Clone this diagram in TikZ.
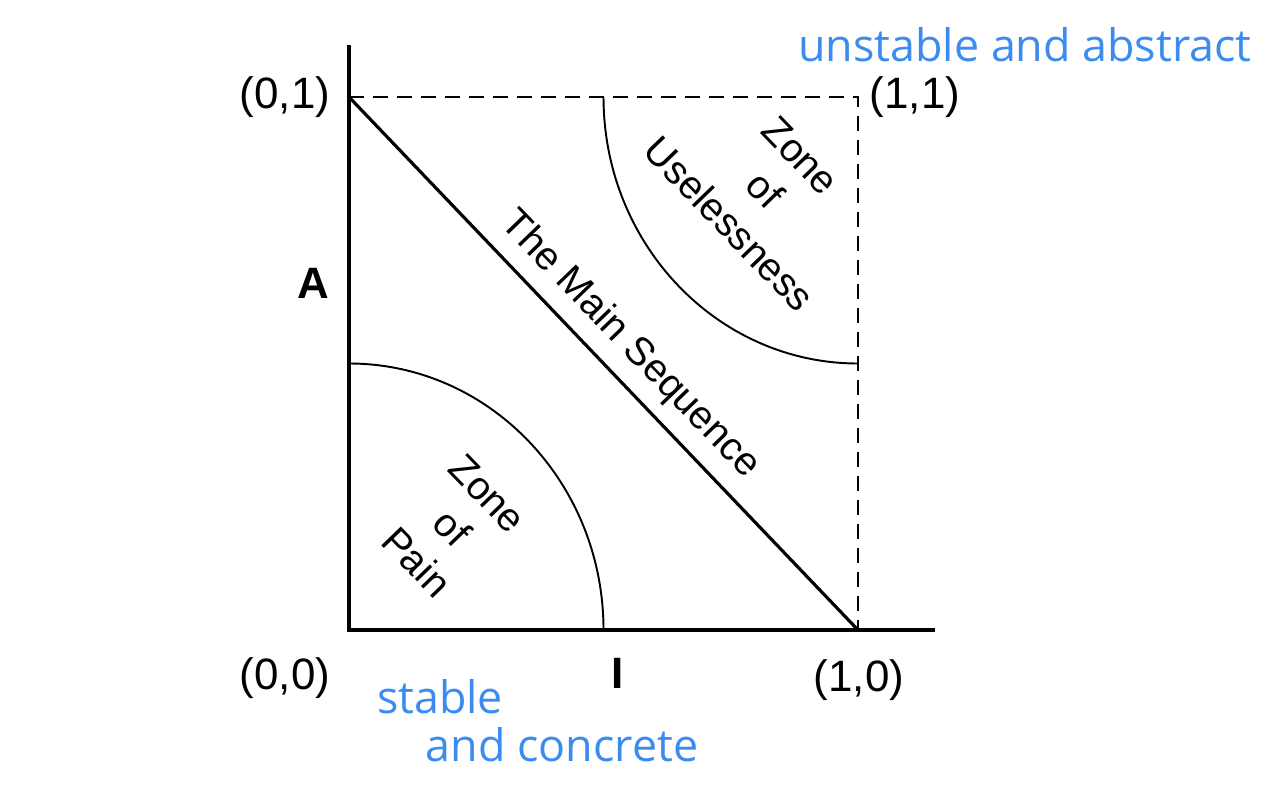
\documentclass[tikz,border=0pt]{standalone}
\usepackage{fontspec}
\setmainfont{Liberation Sans}
\newfontfamily\handfont{Open Sans}
\usepackage{tikz}
\usetikzlibrary{positioning}
\definecolor{penblue}{RGB}{60,140,240}

\begin{document}
\begin{tikzpicture}[x=10.18cm,y=10.66cm,
		axis/.style={line width=1.8pt},
		zone/.style={line width=1.1pt},
		guide/.style={line width=1.1pt,dash pattern=on 0.3cm off 0.18cm},
		corner/.style={inner sep=0pt,font=\fontsize{25}{30}\selectfont},
		inlabel/.style={inner sep=0pt,align=center,rotate=-46,font=\fontsize{22.5}{28}\selectfont},
		note/.style={inner sep=0pt,text=penblue,font=\handfont\fontsize{25.5}{30}\selectfont}]
		
		\useasboundingbox (-0.6857,-0.3114) rectangle (1.8212,1.182);
		
		% corners of the unit square and axis ends
		\coordinate (O)  at (0,0);
		\coordinate (X)  at (1,0);
		\coordinate (Y)  at (0,1);
		\coordinate (XY) at (1,1);
		\coordinate (Atop) at (0,1.0976);
		\coordinate (Iend) at (1.151,0);
		
		% --- dashed sides of the square ---
		\draw[guide] (Y) -- (XY) -- (X);
		
		% zones: quarter circles of radius 1/2
		\draw[zone] (0,0.5) arc[start angle=90,end angle=0,radius=0.5];   % pain
		\draw[zone] (0.5,1) arc[start angle=180,end angle=270,radius=0.5]; % uselessness
		
		% main sequence A + I = 1
		\draw[axis] (Y) -- (X);
		
		% --- axes drawn last ---
		\draw[axis] (Atop) -- (O) -- (Iend);
		
		% corner labels
		\node[corner] (lblO)  at (-0.1257,-0.090) {(0,0)};
		\node[corner] (lblX)  at (1.002,-0.094)   {(1,0)};
		\node[corner] (lblY)  at (-0.1257,1.0)    {(0,1)};
		\node[corner] (lblXY) at (1.112,1.0)      {(1,1)};
		
		% axis names
		\node[corner,font=\fontsize{25}{30}\selectfont\bfseries] (lblA) at (-0.0707,0.651) {A};
		\node[corner,font=\fontsize{25}{30}\selectfont\bfseries] (lblI) at (0.528,-0.081) {I};
		
		% region labels
		\node[inlabel] (seq)     at (0.552,0.5347) {The Main Sequence};
		\node[inlabel] (useless) at (0.817,0.8255) {Zone\\of\\Uselessness};
		\node[inlabel] (pain)    at (0.2024,0.1914) {Zone\\of\\Pain};
		
		% handwritten notes
		\node[note] (abstract) at (1.328,1.0976) {unstable and abstract};
		\node[note] (stable)   at (0.1788,-0.1257) {stable};
		\node[note] (concrete) at (0.4185,-0.2158) {and concrete};
		
	\end{tikzpicture}
\end{document}
